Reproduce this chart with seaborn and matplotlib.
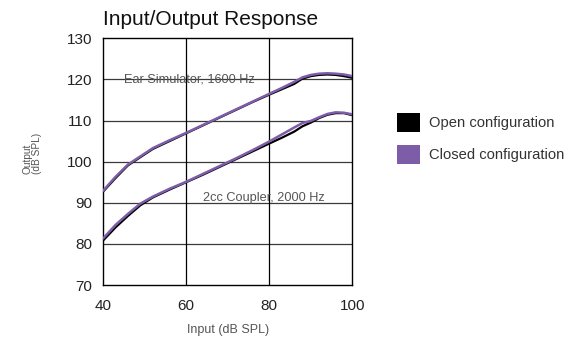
import matplotlib
matplotlib.use("Agg")
import matplotlib.pyplot as plt
from matplotlib.patches import Patch
import seaborn as sns
import pandas as pd

# ---- data ----
input_db = [40, 43, 46, 49, 52, 56, 60, 64, 68, 72, 76, 80, 83, 86, 88, 90, 92, 94, 96, 98, 100]

ear_open = [92.7, 96.0, 99.1, 101.1, 103.1, 105.0, 106.9, 108.8, 110.7, 112.6, 114.5, 116.3, 117.6, 118.9, 120.2, 120.8, 121.1, 121.2, 121.1, 120.8, 120.4]
ear_closed = [92.9, 96.3, 99.3, 101.3, 103.3, 105.2, 107.0, 108.9, 110.8, 112.7, 114.6, 116.5, 117.9, 119.4, 120.5, 121.1, 121.4, 121.5, 121.4, 121.2, 120.8]

cpl_open = [80.8, 84.0, 86.8, 89.4, 91.3, 93.2, 95.0, 96.8, 98.7, 100.6, 102.5, 104.4, 105.8, 107.3, 108.6, 109.5, 110.6, 111.4, 111.8, 111.8, 111.3]
cpl_closed = [81.3, 84.6, 87.3, 89.8, 91.5, 93.4, 95.1, 97.0, 98.9, 100.8, 102.8, 104.9, 106.6, 108.3, 109.4, 109.9, 110.8, 111.6, 112.0, 111.9, 111.5]

configs = ["Open configuration", "Closed configuration"]
colors = ["#000000", "#7d5ca8"]
annotations = ["Ear Simulator, 1600 Hz", "2cc Coupler, 2000 Hz"]

rows = []
for cfg, ear, cpl in [(configs[0], ear_open, cpl_open), (configs[1], ear_closed, cpl_closed)]:
    for x, y in zip(input_db, ear):
        rows.append({"x": x, "y": y, "config": cfg, "curve": "ear"})
    for x, y in zip(input_db, cpl):
        rows.append({"x": x, "y": y, "config": cfg, "curve": "cpl"})
df = pd.DataFrame(rows)

sns.set_style("white")
plt.rcParams["font.family"] = ["Liberation Sans", "DejaVu Sans"]

fig = plt.figure(figsize=(5.67, 3.37), dpi=100)
ax = fig.add_axes([0.1817, 0.1543, 0.4397, 0.732])

ax.set_xlim(40, 100)
ax.set_ylim(70, 130)
for v in range(80, 130, 10):
    ax.axhline(v, color="#3a3a3a", lw=0.9, zorder=1)
for v in [60, 80]:
    ax.axvline(v, color="#000000", lw=0.9, zorder=1)

for cfg, col, lw in zip(configs, colors, [1.6, 1.8]):
    sub = df[df["config"] == cfg]
    sns.lineplot(data=sub, x="x", y="y", units="curve", estimator=None,
                 color=col, lw=lw, ax=ax, zorder=3, sort=False)

for s in ax.spines.values():
    s.set_color("black")
    s.set_linewidth(1.0)

ax.set_xticks([40, 60, 80, 100])
ax.set_yticks(list(range(70, 131, 10)))
ax.tick_params(axis="both", labelsize=11, length=0, colors="#222222")
ax.tick_params(axis="x", pad=10)
ax.tick_params(axis="y", pad=8)
ax.set_xlabel("Input (dB SPL)", fontsize=9, color="#555555", labelpad=8)
ax.set_ylabel("")
fig.text(32 / 567, 1 - 153 / 337, "Output\n(dB SPL)", rotation=90, fontsize=7.3,
         color="#555555", ha="center", va="center", multialignment="left", linespacing=0.95)
ax.set_title("Input/Output Response", fontsize=15, color="#111111", pad=9.5, loc="left")

ax.text(60.9, 120.1, annotations[0], fontsize=9.2, color="#555555", ha="center", va="center", zorder=2)
ax.text(78.6, 91.1, annotations[1], fontsize=9.2, color="#555555", ha="center", va="center", zorder=2)

handles = [Patch(facecolor=c, edgecolor="none") for c in colors]
fig.legend(handles, configs, loc="upper left", bbox_to_anchor=(397 / 567, 1 - 113 / 337),
           frameon=False, fontsize=10.6, handlelength=1.55, handleheight=1.6,
           labelspacing=0.9, handletextpad=0.6, borderpad=0, borderaxespad=0,
           labelcolor="#333333")

fig.savefig("out.png", dpi=100)
